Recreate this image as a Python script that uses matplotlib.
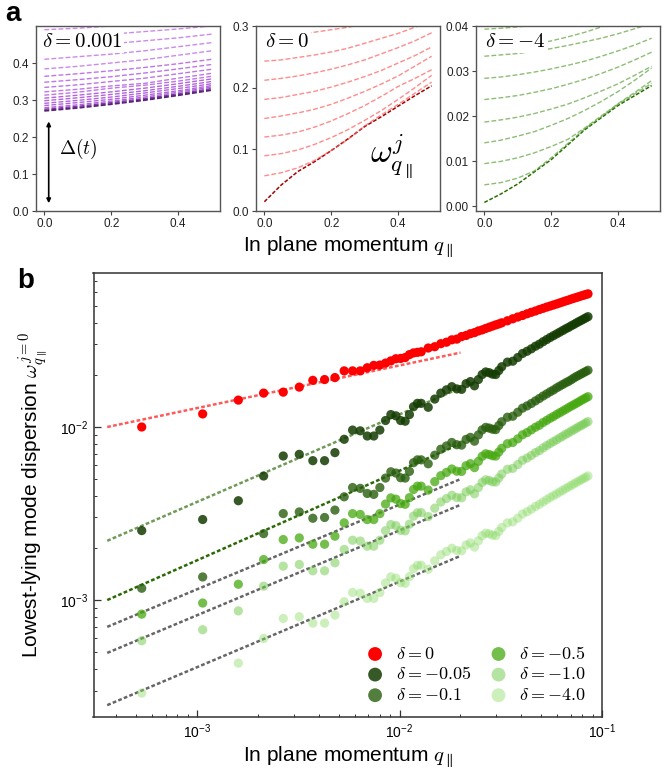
import numpy as np
import matplotlib.pyplot as plt

plt.rcParams['font.family'] = ['Liberation Sans', 'DejaVu Sans']
plt.rcParams['mathtext.fontset'] = 'cm'

# ---------------- panel a : mode spectra vs q ----------------
qa6 = [0.0, 0.1, 0.2, 0.3, 0.4, 0.5]
qa = [0.0, 0.05, 0.1, 0.15, 0.2, 0.25, 0.3, 0.35, 0.4, 0.45, 0.5]

modes_d0001 = [
    [0.270, 0.278, 0.288, 0.299, 0.312, 0.326],
    [0.272, 0.280, 0.290, 0.301, 0.314, 0.328],
    [0.275, 0.283, 0.293, 0.304, 0.317, 0.331],
    [0.279, 0.287, 0.297, 0.308, 0.321, 0.335],
    [0.285, 0.293, 0.302, 0.313, 0.325, 0.339],
    [0.291, 0.299, 0.308, 0.319, 0.331, 0.344],
    [0.298, 0.306, 0.315, 0.325, 0.337, 0.350],
    [0.305, 0.313, 0.322, 0.332, 0.344, 0.357],
    [0.313, 0.321, 0.332, 0.340, 0.351, 0.364],
    [0.322, 0.329, 0.338, 0.345, 0.359, 0.372],
    [0.334, 0.341, 0.350, 0.359, 0.371, 0.383],
    [0.348, 0.355, 0.363, 0.373, 0.384, 0.396],
    [0.364, 0.371, 0.379, 0.388, 0.398, 0.410],
    [0.384, 0.391, 0.400, 0.409, 0.421, 0.433],
    [0.410, 0.417, 0.424, 0.433, 0.444, 0.455],
    [0.440, 0.446, 0.452, 0.460, 0.468, 0.478],
    [0.468, 0.473, 0.478, 0.485, 0.492, 0.500],
    [0.490, 0.494, 0.500, 0.506, 0.512, 0.520],
]

modes_d0 = [
    [0.015, 0.042, 0.064, 0.080, 0.098, 0.117, 0.137, 0.153, 0.170, 0.187, 0.203],
    [0.057, 0.062, 0.070, 0.082, 0.098, 0.116, 0.138, 0.156, 0.173, 0.191, 0.209],
    [0.0895, 0.093, 0.099, 0.108, 0.119, 0.132, 0.147, 0.163, 0.181, 0.200, 0.220],
    [0.120, 0.123, 0.128, 0.136, 0.146, 0.158, 0.171, 0.186, 0.202, 0.215, 0.229],
    [0.150, 0.154, 0.159, 0.165, 0.173, 0.183, 0.194, 0.206, 0.219, 0.235, 0.251],
    [0.181, 0.184, 0.189, 0.194, 0.201, 0.209, 0.218, 0.228, 0.240, 0.252, 0.266],
    [0.212, 0.215, 0.219, 0.224, 0.230, 0.237, 0.245, 0.255, 0.265, 0.276, 0.289],
    [0.243, 0.245, 0.249, 0.253, 0.258, 0.264, 0.272, 0.280, 0.288, 0.298, 0.309],
    [0.281, 0.283, 0.286, 0.290, 0.294, 0.298, 0.303, 0.309, 0.316, 0.324, 0.333],
]

modes_dm4 = [
    [0.0009, 0.0028, 0.0050, 0.0077, 0.0104, 0.0137, 0.0170, 0.0197, 0.0224, 0.0246, 0.0268],
    [0.0048, 0.0053, 0.0063, 0.0079, 0.0108, 0.0140, 0.0172, 0.0199, 0.0227, 0.0250, 0.0273],
    [0.0095, 0.0100, 0.0108, 0.0119, 0.0133, 0.0149, 0.0174, 0.0201, 0.0228, 0.0253, 0.0279],
    [0.0141, 0.0147, 0.0156, 0.0166, 0.0180, 0.0195, 0.0213, 0.0233, 0.0255, 0.0280, 0.0307],
    [0.0187, 0.0192, 0.0198, 0.0206, 0.0216, 0.0227, 0.0241, 0.0256, 0.0272, 0.0291, 0.0311],
    [0.0237, 0.0241, 0.0246, 0.0253, 0.0261, 0.0271, 0.0282, 0.0295, 0.0309, 0.0325, 0.0342],
    [0.0284, 0.0287, 0.0292, 0.0298, 0.0305, 0.0313, 0.0322, 0.0333, 0.0345, 0.0358, 0.0373],
    [0.0333, 0.0336, 0.0339, 0.0344, 0.0350, 0.0357, 0.0365, 0.0373, 0.0383, 0.0394, 0.0406],
    [0.0345, 0.0349, 0.0353, 0.0360, 0.0367, 0.0376, 0.0386, 0.0398, 0.0410, 0.0425, 0.0440],
    [0.0393, 0.0395, 0.0398, 0.0402, 0.0406, 0.0411, 0.0417, 0.0424, 0.0432, 0.0440, 0.0449],
]

# ---------------- panel b : lowest mode, log-log ----------------
n_b = list(range(1, 25)) + list(range(26, 61, 2)) + list(range(64, 161, 4))
q_b = np.array(n_b) * 5.33e-4
nan = float('nan')

w_d0 = [0.0100, 0.0119, 0.0143, 0.0157, 0.0159, 0.0170, 0.0186, 0.0188, 0.0193, 0.0211, 0.0211, 0.0211,
        0.0220, 0.0227, 0.0228, 0.0234, 0.0241, 0.0248, 0.0249, 0.0252, 0.0262, 0.0268, 0.0270, 0.0272,
        0.0286, 0.0291, 0.0303, 0.0309, 0.0319, 0.0322, 0.0333, 0.0338, 0.0346, 0.0351, 0.0359, 0.0364,
        0.0371, 0.0377, 0.0383, 0.0389, 0.0394, 0.0400,
        0.0411, 0.0422, 0.0432, 0.0441, 0.0451, 0.0460, 0.0468, 0.0477, 0.0485, 0.0493, 0.0500, 0.0507,
        0.0514, 0.0521, 0.0528, 0.0535, 0.0541, 0.0548, 0.0554, 0.0560, 0.0566, 0.0572, 0.0577, 0.0583, 0.0588]

w_dm005 = [0.00252, 0.00292, 0.00375, 0.00521, 0.00680, 0.00695, 0.00639, 0.00639, 0.00711, 0.00849, 0.00960, 0.00950,
           0.00887, 0.00887, 0.00960, 0.0109, 0.0118, 0.0116, 0.0109, 0.0108, 0.0118, 0.0131, 0.0137, 0.0137,
           0.0130, 0.0145, 0.0157, 0.0164, 0.0171, 0.0166, 0.0165, 0.0178, 0.0183, 0.0173, 0.0188, 0.0201,
           0.0208, 0.0206, 0.0202, 0.0201, 0.0212, 0.0223,
           0.0237, 0.0240, 0.0252, 0.0266, 0.0274, 0.0283, 0.0293, 0.0301, 0.0311, 0.0320, 0.0329, 0.0337,
           0.0345, 0.0353, 0.0361, 0.0369, 0.0376, 0.0384, 0.0391, 0.0399, 0.0406, 0.0413, 0.0420, 0.0427, 0.0434]

w_dm01 = [0.00117, 0.00136, nan, 0.00242, 0.00316, 0.00323, 0.00297, 0.00300, 0.00331, 0.00395, 0.00447, 0.00442,
          0.00413, 0.00408, 0.00447, 0.00507, 0.00551, 0.00542, 0.00509, 0.00507, 0.00554, 0.00622, 0.00646, 0.00646,
          0.00613, 0.00687, 0.00744, 0.00777, 0.00814, 0.00790, 0.00786, 0.00848, 0.00871, 0.00828, 0.00900, 0.00962,
          0.00995, 0.00986, 0.00971, 0.00966, 0.01019, 0.01072,
          0.01139, 0.01154, 0.01217, 0.01285, 0.01324, 0.01367, 0.01415, 0.01461, 0.01510, 0.01553, 0.01597, 0.01636,
          0.01683, 0.01722, 0.01761, 0.01800, 0.01834, 0.01873, 0.01917, 0.01956, 0.01990, 0.02025, 0.02059, 0.02093, 0.02127]

w_dm05 = [0.000829, 0.000961, 0.001234, 0.001714, 0.002237, 0.002286, 0.002102, 0.002102, 0.002339, 0.002793, 0.003158, 0.003125,
          0.002918, 0.002918, 0.003158, 0.003586, 0.003894, 0.003828, 0.003609, 0.003576, 0.003907, 0.004352, 0.004551, 0.004551,
          0.004319, 0.004833, 0.005233, 0.005467, 0.005719, 0.005552, 0.005537, 0.005973, 0.006141, 0.005825, 0.006330, 0.006768,
          0.007003, 0.006936, 0.006824, 0.006791, 0.007162, 0.007534,
          0.008007, 0.008136, 0.008542, 0.009017, 0.009288, 0.009626, 0.009966, 0.010238, 0.010614, 0.010922, 0.011229, 0.011502,
          0.011815, 0.012089, 0.012363, 0.012637, 0.012921, 0.013196, 0.013436, 0.013711, 0.013952, 0.014241, 0.014483, 0.014724, 0.014966]

w_dm1 = [0.000582, 0.000674, 0.000866, 0.001203, 0.001570, 0.001605, 0.001476, 0.001476, 0.001642, 0.001961, 0.002217, 0.002194,
         0.002048, 0.002048, 0.002217, 0.002517, 0.002731, 0.002691, 0.002529, 0.002512, 0.002744, 0.003054, 0.003193, 0.003201,
         0.003037, 0.003396, 0.003685, 0.003859, 0.004033, 0.003915, 0.003901, 0.004218, 0.004336, 0.004109, 0.004466, 0.004786,
         0.004952, 0.004916, 0.004821, 0.004809, 0.005072, 0.005348,
         0.005697, 0.005769, 0.006072, 0.006425, 0.006618, 0.006852, 0.007112, 0.007306, 0.007567, 0.007805, 0.008024, 0.008240,
         0.008435, 0.008652, 0.008848, 0.009066, 0.009238, 0.009458, 0.009631, 0.009828, 0.010025, 0.010198, 0.010370, 0.010569, 0.010743]

w_dm4 = [0.000290, nan, 0.000432, 0.000600, 0.000783, 0.000801, 0.000736, 0.000736, 0.000819, 0.000978, 0.001106, 0.001094,
         0.001022, 0.001022, 0.001106, 0.001256, 0.001361, 0.001339, 0.001260, 0.001250, 0.001366, 0.001518, 0.001587, 0.001589,
         0.001508, 0.001684, 0.001826, 0.001909, 0.001993, 0.001935, 0.001925, 0.002079, 0.002138, 0.002023, 0.002199, 0.002354,
         0.002436, 0.002415, 0.002371, 0.002359, 0.002491, 0.002624,
         0.002792, 0.002830, 0.002975, 0.003144, 0.003239, 0.003349, 0.003472, 0.003571, 0.003689, 0.003800, 0.003912, 0.004012,
         0.004107, 0.004207, 0.004308, 0.004409, 0.004498, 0.004593, 0.004683, 0.004778, 0.004868, 0.004952, 0.005042, 0.005126, 0.005216]

# power-law guide lines (two end points each)
fit_q = [3.6e-4, 0.02]
fit_d0 = [0.0100, 0.0269]
fit_dm005 = [0.0022, 0.0168]
fit_dm01 = [0.0010, 0.0080]
fit_dm05 = [0.00070, 0.0050]
fit_dm1 = [0.000495, 0.00355]
fit_dm4 = [0.000247, 0.0018]

labels_b = [r'$\delta=0$', r'$\delta=-0.05$', r'$\delta=-0.1$',
            r'$\delta=-0.5$', r'$\delta=-1.0$', r'$\delta=-4.0$']

# ---------------- figure ----------------
W, H = 670, 772
fig = plt.figure(figsize=(W / 100, H / 100), dpi=100)


def px_axes(l, t, r, b):
    return fig.add_axes([l / W, 1 - b / H, (r - l) / W, (b - t) / H])


ax1 = px_axes(36, 26, 220, 211)
ax2 = px_axes(256, 26, 440, 211)
ax3 = px_axes(476, 26, 660, 211)
axb = px_axes(93.5, 273, 602, 717)

for ax in (ax1, ax2, ax3):
    for s in ax.spines.values():
        s.set_color('#555555')
        s.set_linewidth(1.0)
    ax.tick_params(direction='out', length=3, width=0.8, labelsize=8.5,
                   color='#444444', labelcolor='#222222', pad=2)
    ax.set_xlim(-0.025, 0.525)
    ax.set_xticks([0.0, 0.2, 0.4])

# a1: delta = 0.001
cols1 = ['#3c0a5a', '#52107a', '#6a1c92'] + ['#a548d6'] * 5 + ['#b45ee0'] * 5 + ['#c276e8'] * 5
for i, ys in enumerate(modes_d0001):
    ax1.plot(qa6, ys, color=cols1[i], lw=1.0, dashes=(3.5, 1.6), alpha=0.85)
ax1.set_ylim(0, 0.5)
ax1.set_yticks([0.0, 0.1, 0.2, 0.3, 0.4])
ax1.annotate('', xy=(0.013, 0.242), xytext=(0.013, 0.021),
             arrowprops=dict(arrowstyle='<|-|>', color='black', lw=1.2, mutation_scale=6,
                             shrinkA=0, shrinkB=0))
ax1.text(0.045, 0.167, r'$\Delta(t)$', fontsize=14, va='center', ha='left')
ax1.text(0.035, 0.965, r'$\delta=0.001$', transform=ax1.transAxes, fontsize=15,
         va='top', ha='left', bbox=dict(fc='white', ec='none', pad=1.0), zorder=5)

# a2: delta = 0
for i, ys in enumerate(modes_d0):
    if i == 0:
        ax2.plot(qa, ys, color='#a30000', lw=1.1, dashes=(2.5, 1.2))
    else:
        ax2.plot(qa, ys, color='#ff5a5a', lw=1.0, dashes=(3.5, 1.6), alpha=0.7)
ax2.set_ylim(0, 0.3)
ax2.set_yticks([0.0, 0.1, 0.2, 0.3])
ax2.text(0.05, 0.965, r'$\delta=0$', transform=ax2.transAxes, fontsize=15,
         va='top', ha='left', bbox=dict(fc='white', ec='none', pad=1.0), zorder=5)
ax2.text(0.315, 0.088, r'$\omega^{j}_{q_{\parallel}}$', fontsize=24, va='center', ha='left')
ax2.set_xlabel(r'In plane momentum $q_{\parallel}$', fontsize=15, labelpad=3)

# a3: delta = -4
for i, ys in enumerate(modes_dm4):
    if i == 0:
        ax3.plot(qa, ys, color='#287000', lw=1.1, dashes=(2.5, 1.2))
    else:
        ax3.plot(qa, ys, color='#5da23c', lw=1.0, dashes=(3.5, 1.6), alpha=0.7)
ax3.set_ylim(-0.001, 0.04)
ax3.set_yticks([0.0, 0.01, 0.02, 0.03, 0.04])
ax3.set_yticklabels(['0.00', '0.01', '0.02', '0.03', '0.04'])
ax3.text(0.05, 0.965, r'$\delta=-4$', transform=ax3.transAxes, fontsize=15,
         va='top', ha='left', bbox=dict(fc='white', ec='none', pad=1.0), zorder=5)

# b: log-log lowest mode
series_b = [w_d0, w_dm005, w_dm01, w_dm05, w_dm1, w_dm4]
fits_b = [fit_d0, fit_dm005, fit_dm01, fit_dm05, fit_dm1, fit_dm4]
col_b = ['#ff0000', '#143c02', '#285e0e', '#46a810', '#78cc55', '#8edc6c']
alp_b = [1.0, 0.85, 0.8, 0.75, 0.55, 0.45]
fit_col = ['#ff5a5a', '#6f9a57', '#2a6a05', '#666666', '#666666', '#666666']

for fy, c in zip(fits_b, fit_col):
    axb.plot(fit_q, fy, color=c, lw=1.8, dashes=(1.5, 0.9), zorder=1)
for ys, c, a, lab in zip(series_b, col_b, alp_b, labels_b):
    axb.scatter(q_b, ys, s=44, color=c, alpha=a, edgecolors='none', label=lab, zorder=2)

axb.set_xscale('log')
axb.set_yscale('log')
axb.set_xlim(3.08e-4, 0.1)
axb.set_ylim(2.11e-4, 0.0776)
for s in axb.spines.values():
    s.set_color('#333333')
    s.set_linewidth(1.1)
axb.tick_params(which='both', direction='in', top=False, right=False, color='#333333')
axb.tick_params(which='major', length=5, width=0.9, labelsize=10, pad=4)
axb.tick_params(which='minor', length=2.5, width=0.7)
axb.set_xlabel(r'In plane momentum $q_{\parallel}$', fontsize=15, labelpad=2)
axb.set_ylabel(r'Lowest-lying mode dispersion $\omega^{j=0}_{q_{\parallel}}$', fontsize=15, labelpad=6)

axb.legend(ncol=2, loc='lower right', bbox_to_anchor=(0.99, 0.005), frameon=False,
           fontsize=13, markerscale=1.5, handletextpad=0.15, columnspacing=0.5,
           labelspacing=0.2, borderaxespad=0.2, scatterpoints=1)

fig.text(5 / W, 1 - 1 / H, 'a', fontsize=20, fontweight='bold', va='top', ha='left')
fig.text(17 / W, 1 - 268 / H, 'b', fontsize=20, fontweight='bold', va='top', ha='left')

fig.savefig('out.png', dpi=100)
